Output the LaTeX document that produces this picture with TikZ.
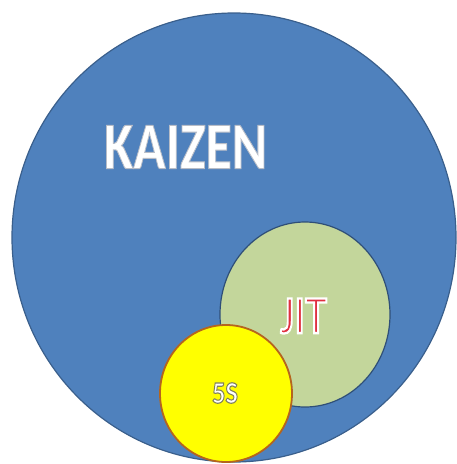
\documentclass[tikz,border=0pt]{standalone}
\usepackage{fontspec}
\setmainfont{Carlito}
\usetikzlibrary{shapes.geometric}
\definecolor{kaizenblue}{HTML}{4F81BD}
\definecolor{kaizenedge}{HTML}{3A5F8C}
\definecolor{jitgreen}{HTML}{C3D69B}
\definecolor{jitedge}{HTML}{2F4F78}
\definecolor{fiveyellow}{HTML}{FFFF00}
\definecolor{fiveedge}{HTML}{B5651D}
\definecolor{jitred}{HTML}{E03040}
% outlined glyphs: fill in the current colour, stroke (rgb #1, width #2) on top
\newcommand{\rimtext}[3]{\special{pdf:literal direct 2 Tr #1 RG #2 w}#3\special{pdf:literal direct 0 Tr}}
\tikzset{
  disc/.style={ellipse, inner sep=0pt, line width=1.2pt},
  label/.style={inner sep=0pt, anchor=center}
}
\begin{document}
\begin{tikzpicture}[x=1pt,y=-1pt]
\useasboundingbox (0,0) rectangle (457,464);
% nested sets
\node[disc, fill=kaizenblue, draw=kaizenedge, minimum width=444pt, minimum height=449pt] (kaizen) at (234,237.5) {};
\node[disc, fill=jitgreen, draw=jitedge, minimum width=170pt, minimum height=185pt] (jit) at (305,314.5) {};
\node[disc, fill=fiveyellow, draw=fiveedge, line width=1.8pt, minimum width=132pt, minimum height=137pt] (fives) at (226,393.5) {};
% KAIZEN: white letters with a soft grey edge
\node[label, text=white, xscale=0.8] (kaizentext) at (185.5,147) {\fontsize{67}{67}\selectfont\bfseries\rimtext{0.72 0.74 0.78}{1.0}{KAIZEN}};
% JIT: thin red strokes inside a white rim
\node[label, text=jitred, xscale=0.82] (jittext) at (303.5,316) {\fontsize{54}{54}\selectfont\rimtext{1 1 1}{2.3}{JIT}};
% 5S: white letters with a dull olive edge
\node[label, text=white, xscale=0.85] (fivestext) at (225,393) {\fontsize{31}{31}\selectfont\bfseries\rimtext{0.5 0.5 0.35}{1.1}{5S}};
\end{tikzpicture}
\end{document}
